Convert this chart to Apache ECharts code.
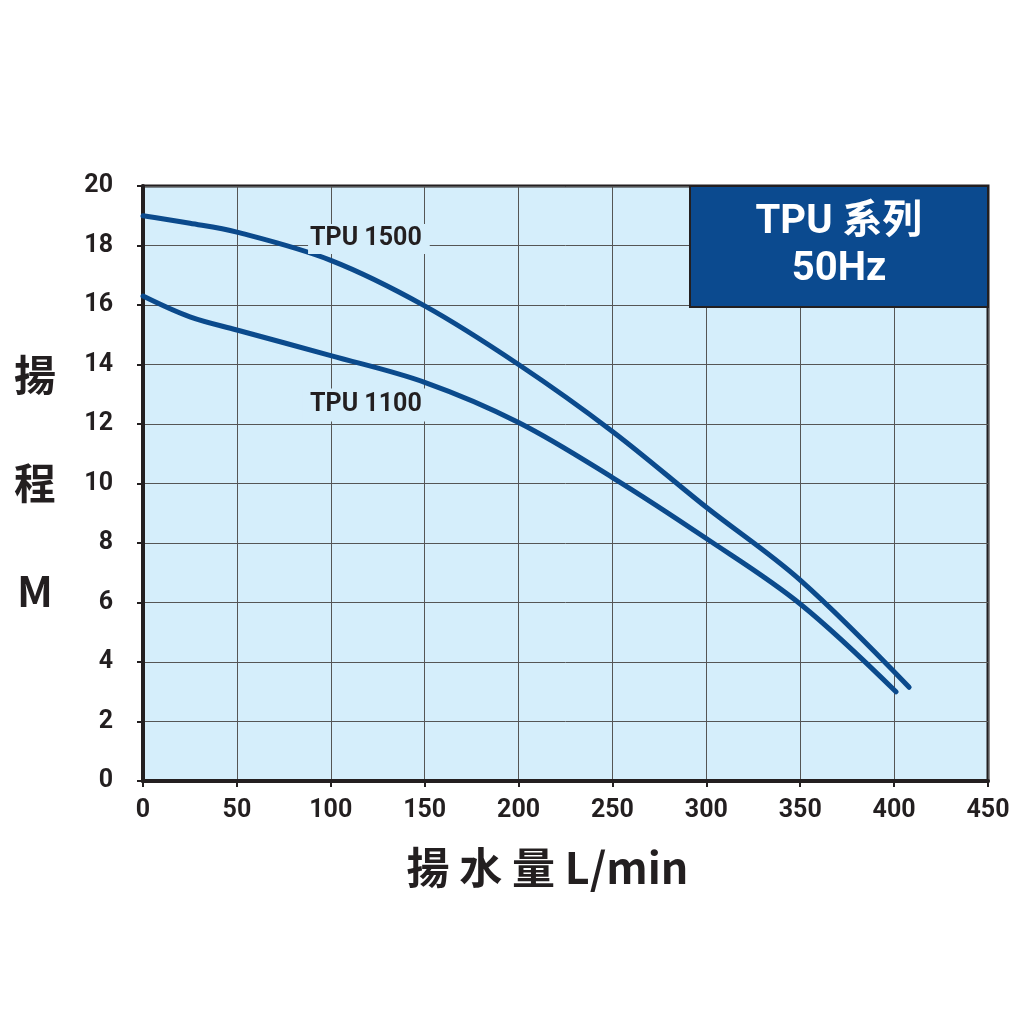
<!DOCTYPE html>
<html>
<head>
<meta charset="utf-8">
<script src="https://cdn.jsdelivr.net/npm/echarts@6/dist/echarts.min.js"></script>
<style>
  html, body { margin: 0; padding: 0; background: #fff; }
  #chart { width: 1024px; height: 1024px; }
</style>
</head>
<body>
<div id="chart"></div>
<script>
  // 揚水量 (L/min) / 揚程 (M)
  const flow1500 = [0, 25, 50, 100, 150, 200, 250, 300, 350, 408]
  const head1500 = [19.0, 18.75, 18.45, 17.5, 15.97, 14.0, 11.75, 9.2, 6.75, 3.15]
  const flow1100 = [0, 25, 50, 100, 150, 200, 250, 300, 350, 401]
  const head1100 = [16.3, 15.6, 15.16, 14.3, 13.4, 12.05, 10.2, 8.15, 5.95, 3.0]
  const xTicks = [0, 450, 50]   // min, max, interval
  const yTicks = [0, 20, 2]

  const lineColor = '#0b4a8c'
  const textColor = '#231f20'
  const plotBg = '#d5eefb'
  const font = 'Roboto, "Noto Sans CJK TC", sans-serif'

  const pairs = (xs, ys) => xs.map((x, i) => [x, ys[i]])

  const chart = echarts.init(document.getElementById('chart'))

  // label box hides grid lines behind it, like the original
  const curveLabel = (name, coord, padding) => ({
    symbol: 'rect',
    symbolSize: [1, 1],
    silent: true,
    itemStyle: { color: 'rgba(0,0,0,0)' },
    label: {
      show: true,
      formatter: name,
      position: 'inside',
      color: textColor,
      fontFamily: font,
      fontWeight: 'bold',
      fontSize: 25,
      backgroundColor: plotBg,
      padding: padding
    },
    data: [{ coord: coord }]
  })

  chart.setOption({
    animation: false,
    grid: {
      left: 143,
      right: 36,
      top: 186,
      bottom: 243,
      show: true,
      backgroundColor: plotBg,
      borderColor: textColor,
      borderWidth: 3
    },
    xAxis: {
      type: 'value',
      min: xTicks[0],
      max: xTicks[1],
      interval: xTicks[2],
      name: '揚 水 量 L/min',
      nameLocation: 'middle',
      nameGap: 87,
      nameTextStyle: {
        color: textColor,
        fontFamily: '"Noto Sans CJK TC", sans-serif',
        fontWeight: 'bold',
        fontSize: 43,
        verticalAlign: 'middle',
        padding: [0, 36, 0, 0]
      },
      axisLine: { lineStyle: { color: textColor, width: 4 } },
      axisTick: { show: true, length: 6, lineStyle: { color: textColor, width: 2 } },
      axisLabel: { color: textColor, fontFamily: font, fontWeight: 'bold', fontSize: 25, margin: 17 },
      splitLine: { lineStyle: { color: '#555', width: 1 } }
    },
    yAxis: {
      type: 'value',
      min: yTicks[0],
      max: yTicks[1],
      interval: yTicks[2],
      name: '揚\n程\nM',
      nameLocation: 'middle',
      nameRotate: 0,
      nameGap: 108,
      nameTextStyle: {
        color: textColor,
        fontFamily: '"Noto Sans CJK TC", sans-serif',
        fontWeight: 'bold',
        fontSize: 42,
        lineHeight: 108,
        align: 'center',
        verticalAlign: 'middle',
        padding: [28, 0, 0, 0]
      },
      axisLine: { show: true, lineStyle: { color: textColor, width: 4 } },
      axisTick: { show: true, length: 6, lineStyle: { color: textColor, width: 2 } },
      axisLabel: { color: textColor, fontFamily: font, fontWeight: 'bold', fontSize: 25, margin: 30 },
      splitLine: { lineStyle: { color: '#555', width: 1 } }
    },
    series: [
      {
        name: 'TPU 1500',
        type: 'line',
        smooth: 0.35,
        symbol: 'none',
        data: pairs(flow1500, head1500),
        lineStyle: { color: lineColor, width: 5, cap: 'round' },
        markPoint: curveLabel('TPU 1500', [120.3, 18.22], [5, 8, 0, 2]),
        markArea: {
          silent: true,
          itemStyle: { color: '#0b4a8f', borderColor: textColor, borderWidth: 2 },
          label: {
            show: true,
            position: 'inside',
            formatter: 'TPU 系列\n50Hz',
            color: '#fff',
            fontFamily: 'Roboto, "Noto Sans CJK TC", sans-serif',
            fontWeight: 'bold',
            fontSize: 40,
            lineHeight: 47,
            align: 'center'
          },
          data: [[{ coord: [291.3, 20] }, { coord: [450, 15.93] }]]
        },
        z: 3
      },
      {
        name: 'TPU 1100',
        type: 'line',
        smooth: 0.35,
        symbol: 'none',
        data: pairs(flow1100, head1100),
        lineStyle: { color: lineColor, width: 5, cap: 'round' },
        markPoint: curveLabel('TPU 1100', [118.7, 12.64], [3, 8, 5, 8]),
        z: 3
      }
    ]
  })
</script>
</body>
</html>
